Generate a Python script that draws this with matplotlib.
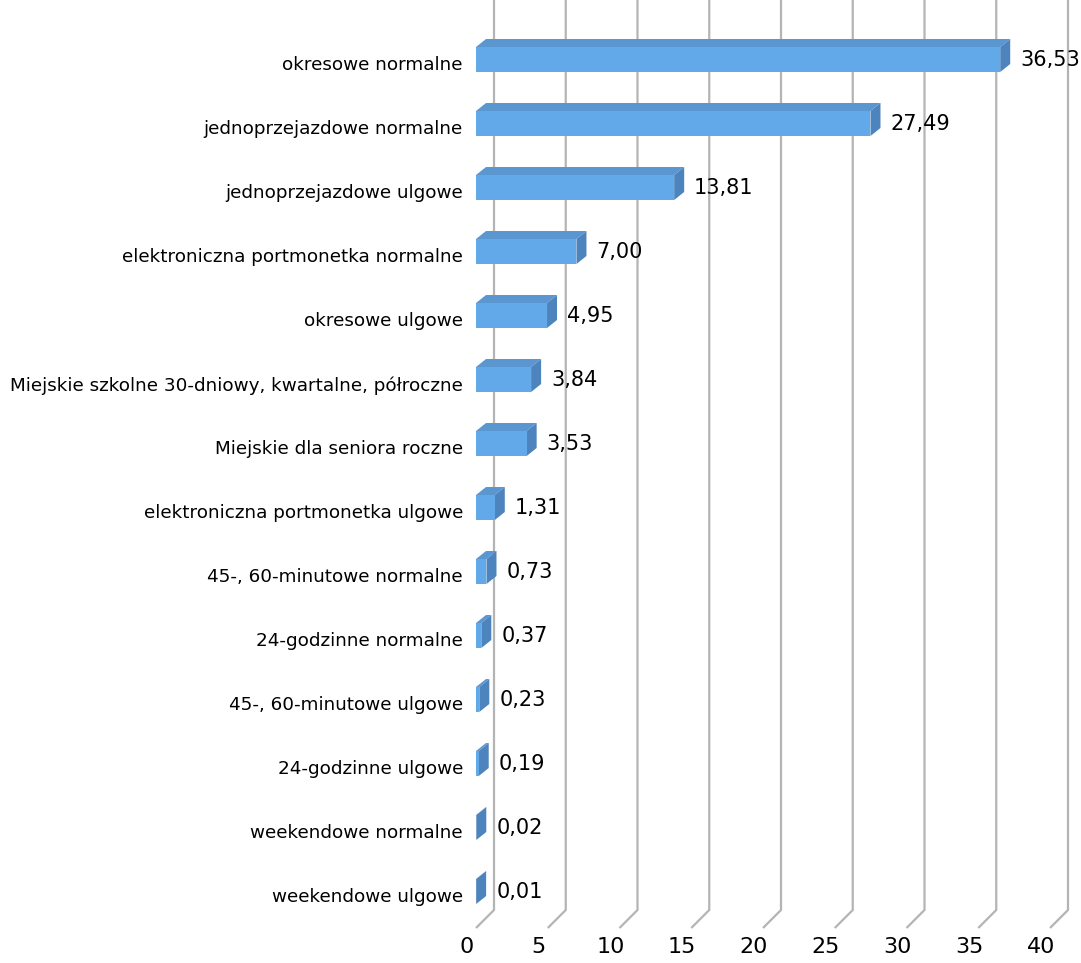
import matplotlib
matplotlib.use("Agg")
import matplotlib.pyplot as plt
from matplotlib.patches import Polygon

# ticket types and their share (%)
categories = [
    "okresowe normalne",
    "jednoprzejazdowe normalne",
    "jednoprzejazdowe ulgowe",
    "elektroniczna portmonetka normalne",
    "okresowe ulgowe",
    "Miejskie szkolne 30-dniowy, kwartalne, półroczne",
    "Miejskie dla seniora roczne",
    "elektroniczna portmonetka ulgowe",
    "45-, 60-minutowe normalne",
    "24-godzinne normalne",
    "45-, 60-minutowe ulgowe",
    "24-godzinne ulgowe",
    "weekendowe normalne",
    "weekendowe ulgowe",
]
values = [36.53, 27.49, 13.81, 7.00, 4.95, 3.84, 3.53, 1.31, 0.73, 0.37, 0.23, 0.19, 0.02, 0.01]
ticks = [0, 5, 10, 15, 20, 25, 30, 35, 40]

W, H = 1081, 963
fig = plt.figure(figsize=(W / 100, H / 100), dpi=100)

# layout in pixels: value 0 of the front plane, scale and row pitch
x0_px = 476.0
px_per_unit = 14.35
row0_px = 59.5
row_px = 64.0
left_px, right_px = 440, W
top_px, bot_px = 0, H

ax = fig.add_axes([left_px / W, 1 - bot_px / H, (right_px - left_px) / W, (bot_px - top_px) / H])
ax.set_xlim((left_px - x0_px) / px_per_unit, (right_px - x0_px) / px_per_unit)
ax.set_ylim((bot_px - row0_px) / row_px, (top_px - row0_px) / row_px)
ax.axis("off")


def dx(px):
    return px / px_per_unit


def dy(px):
    # positive px = move up on screen
    return -px / row_px


def row_at(py):
    return (py - row0_px) / row_px


# back wall gridlines with the floor edge
wall = 18
grid_color = "#b4b4b4"
for t in ticks:
    xs = [t + dx(wall), t + dx(wall), t]
    ys = [row_at(top_px), row_at(910), row_at(928)]
    ax.plot(xs, ys, color=grid_color, lw=1.6, solid_capstyle="butt", zorder=1)

# 3d bars
front_c = "#62a9e9"
top_c = "#5a97d1"
side_c = "#4d84bd"
half = 12.5
depth_x, depth_y = 10, 8
for i, v in enumerate(values):
    y1 = i - half / row_px
    y2 = i + half / row_px
    ox, oy = dx(depth_x), dy(depth_y)
    ax.add_patch(Polygon([(0, y1), (v, y1), (v + ox, y1 + oy), (ox, y1 + oy)],
                         closed=True, fc=top_c, ec="none", zorder=3))
    ax.add_patch(Polygon([(v, y1), (v, y2), (v + ox, y2 + oy), (v + ox, y1 + oy)],
                         closed=True, fc=side_c, ec="none", zorder=3))
    ax.add_patch(Polygon([(0, y1), (v, y1), (v, y2), (0, y2)],
                         closed=True, fc=front_c, ec="none", zorder=4))
    ax.text(v + dx(20), i + 1 / row_px, f"{v:.2f}".replace(".", ","),
            ha="left", va="center", fontsize=15, color="black", zorder=5)
    ax.text(dx(-13), i + 6 / row_px, categories[i],
            ha="right", va="center", fontsize=13.2, color="black", clip_on=False)

for t in ticks:
    ax.text(t + dx(-9), row_at(947), str(t), ha="center", va="center", fontsize=16, color="black")

fig.savefig("out.png", dpi=100, facecolor="white")
